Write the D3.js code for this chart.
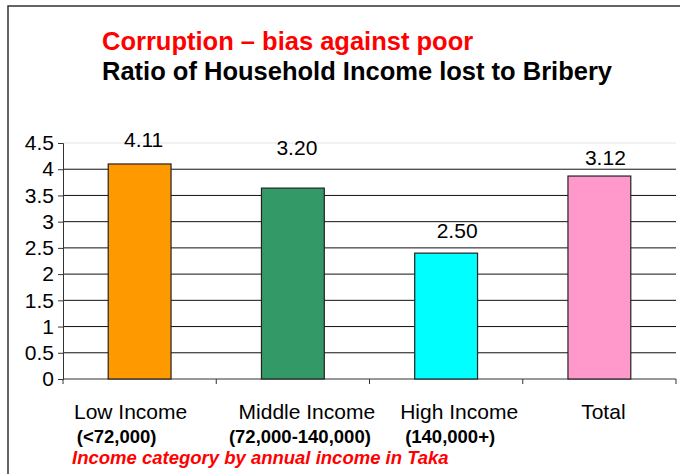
<!DOCTYPE html>
<html>
<head>
<meta charset="utf-8">
<script src="https://cdn.jsdelivr.net/npm/d3@7"></script>
<style>
  body { margin:0; background:#fff; }
  text { font-family:"Liberation Sans", Arial, sans-serif; }
</style>
</head>
<body>
<div id="chart"></div>
<script>
// data
var categories = ["Low Income", "Middle Income", "High Income", "Total"];
var subLabels = ["(<72,000)", "(72,000-140,000)", "(140,000+)", ""];
var barValues = [4.10, 3.64, 2.40, 3.87];
var valueLabels = ["4.11", "3.20", "2.50", "3.12"];
var barColors = ["#FF9900", "#339966", "#00FFFF", "#FF99CC"];
var yTicks = [0, 0.5, 1, 1.5, 2, 2.5, 3, 3.5, 4, 4.5];

// hand placed text boxes in the original, so nudge them a bit
var valueDx = [4, 4, 11, 6];
var valueLift = [17, 33, 15, 11];
var catDx = [-9, 14, 13, 4];
var subDx = [-23, 7, 4, 0];

var W = 680, H = 474;
var plotLeft = 63, plotRight = 676, plotTop = 143, plotBottom = 379;

var svg = d3.select("#chart").append("svg")
  .attr("width", W)
  .attr("height", H);

// frame round the slide
svg.append("rect")
  .attr("x", 8).attr("y", 6)
  .attr("width", W).attr("height", H)
  .attr("fill", "none")
  .attr("stroke", "#333")
  .attr("stroke-width", 1.5);

svg.append("text")
  .attr("x", 102).attr("y", 50)
  .attr("fill", "#FF0000")
  .style("font-size", "25.5px").style("font-weight", "bold")
  .text("Corruption \u2013 bias against poor");

svg.append("text")
  .attr("x", 102).attr("y", 80)
  .attr("fill", "#000")
  .style("font-size", "25.5px").style("font-weight", "bold")
  .text("Ratio of Household Income lost to Bribery");

var x = d3.scaleBand()
  .domain(categories)
  .range([plotLeft, plotRight]);

var y = d3.scaleLinear()
  .domain([0, 4.5])
  .range([plotBottom, plotTop]);

// gridlines
svg.append("g")
  .selectAll("line")
  .data(yTicks.filter(function(d){ return d > 0; }))
  .enter().append("line")
  .attr("x1", plotLeft).attr("x2", plotRight)
  .attr("y1", function(d){ return y(d); })
  .attr("y2", function(d){ return y(d); })
  .attr("stroke", function(d){ return d === 4.5 ? "#e4e4e4" : "#111"; })
  .attr("stroke-width", 1);

var yAxis = d3.axisLeft(y)
  .tickValues(yTicks)
  .tickFormat(d3.format(""))
  .tickSize(5)
  .tickPadding(4);

var gy = svg.append("g")
  .attr("transform", "translate(" + plotLeft + ",0)")
  .call(yAxis);
gy.selectAll("text")
  .style("font-size", "21px")
  .style("font-family", "'Liberation Sans', Arial, sans-serif")
  .attr("fill", "#000");
gy.selectAll("line,path").attr("stroke", "#333");

// x axis with ticks between categories
var bounds = categories.map(function(c){ return x(c); }).concat([plotRight]);
var gx = svg.append("g");
gx.append("line")
  .attr("x1", plotLeft).attr("x2", plotRight)
  .attr("y1", plotBottom).attr("y2", plotBottom)
  .attr("stroke", "#333");
gx.selectAll(".tick")
  .data(bounds)
  .enter().append("line")
  .attr("class", "tick")
  .attr("x1", function(d){ return d; }).attr("x2", function(d){ return d; })
  .attr("y1", plotBottom).attr("y2", plotBottom + 5)
  .attr("stroke", "#333");

var barW = x.bandwidth() * 0.41;

svg.append("g")
  .selectAll("rect")
  .data(barValues)
  .enter().append("rect")
  .attr("x", function(d, i){ return x(categories[i]) + x.bandwidth() / 2 - barW / 2; })
  .attr("y", function(d){ return y(d); })
  .attr("width", barW)
  .attr("height", function(d){ return y(0) - y(d); })
  .attr("fill", function(d, i){ return barColors[i]; })
  .attr("stroke", "#222")
  .attr("stroke-width", 1.2);

svg.append("g")
  .selectAll("text")
  .data(valueLabels)
  .enter().append("text")
  .attr("x", function(d, i){ return x(categories[i]) + x.bandwidth() / 2 + valueDx[i]; })
  .attr("y", function(d, i){ return y(barValues[i]) - valueLift[i]; })
  .attr("text-anchor", "middle")
  .style("font-size", "21px")
  .text(function(d){ return d; });

svg.append("g")
  .selectAll("text")
  .data(categories)
  .enter().append("text")
  .attr("x", function(d, i){ return x(d) + x.bandwidth() / 2 + catDx[i]; })
  .attr("y", 419)
  .attr("text-anchor", "middle")
  .style("font-size", "21px")
  .text(function(d){ return d; });

svg.append("g")
  .selectAll("text")
  .data(subLabels)
  .enter().append("text")
  .attr("x", function(d, i){ return x(categories[i]) + x.bandwidth() / 2 + subDx[i]; })
  .attr("y", 443)
  .attr("text-anchor", "middle")
  .style("font-size", "18.5px").style("font-weight", "bold")
  .text(function(d){ return d; });

svg.append("text")
  .attr("x", 72).attr("y", 464)
  .attr("fill", "#FF0000")
  .style("font-size", "18.5px").style("font-weight", "bold").style("font-style", "italic")
  .text("Income category by annual income in Taka");
</script>
</body>
</html>
